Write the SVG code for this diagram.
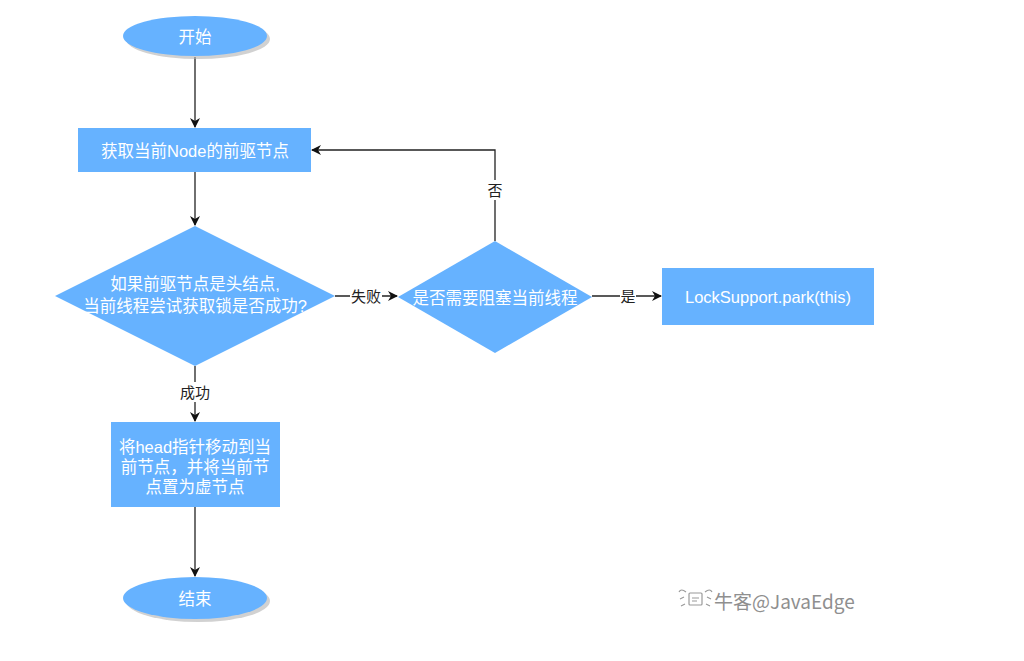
<svg xmlns="http://www.w3.org/2000/svg" width="1024" height="661" viewBox="0 0 1024 661">
<defs>
<style>
.n{fill:#66B2FF;}
.sh{fill:#b3b3b3;opacity:0.6;}
.t{font-family:"Liberation Sans","Noto Sans CJK SC",sans-serif;font-size:16.5px;fill:#ffffff;text-anchor:middle;dominant-baseline:central;}
.l{font-family:"Liberation Sans","Noto Sans CJK SC",sans-serif;font-size:15px;fill:#222;text-anchor:middle;dominant-baseline:central;}
.c{stroke:#222;stroke-width:1.3;fill:none;}
.lb{fill:#ffffff;}
</style>
<marker id="ah" viewBox="0 0 10 10" refX="9" refY="5" markerWidth="10" markerHeight="10" markerUnits="userSpaceOnUse" orient="auto">
<path d="M0,0 L10,5 L0,10 L3,5 Z" fill="#111"/>
</marker>
</defs>
<rect width="1024" height="661" fill="#ffffff"/>
<g id="connectors">
<line class="c" x1="195" y1="57" x2="195" y2="127" marker-end="url(#ah)"/>
<line class="c" x1="195" y1="172" x2="195" y2="225" marker-end="url(#ah)"/>
<line class="c" x1="335" y1="296" x2="397" y2="296" marker-end="url(#ah)"/>
<polyline class="c" points="495,241 495,150 312,150" marker-end="url(#ah)"/>
<line class="c" x1="592" y1="296" x2="661" y2="296" marker-end="url(#ah)"/>
<line class="c" x1="195" y1="366" x2="195" y2="421" marker-end="url(#ah)"/>
<line class="c" x1="195" y1="507" x2="195" y2="576" marker-end="url(#ah)"/>
<rect class="lb" x="350" y="287" width="32" height="18"/>
<text class="l" x="366" y="296">失败</text>
<rect class="lb" x="487" y="180" width="16" height="20"/>
<text class="l" x="495" y="190">否</text>
<rect class="lb" x="620" y="287" width="16" height="18"/>
<text class="l" x="628" y="296">是</text>
<rect class="lb" x="178" y="382" width="34" height="20"/>
<text class="l" x="195" y="392">成功</text>
</g>
<g id="start">
<ellipse class="sh" cx="198" cy="39" rx="72" ry="20"/>
<ellipse class="n" cx="195" cy="36" rx="72" ry="20"/>
<text class="t" x="195" y="37">开始</text>
</g>
<g id="getPred">
<rect class="n" x="78" y="128" width="233" height="44"/>
<text class="t" x="195" y="151">获取当前Node的前驱节点</text>
</g>
<g id="tryLock">
<polygon class="n" points="195,226 335,296 195,366 55,296"/>
<text class="t" x="195" y="284">如果前驱节点是头结点,</text>
<text class="t" x="195" y="306">当前线程尝试获取锁是否成功?</text>
</g>
<g id="shouldPark">
<polygon class="n" points="495,241 592,297 495,353 398,297"/>
<text class="t" x="495" y="298">是否需要阻塞当前线程</text>
</g>
<g id="park">
<rect class="n" x="662" y="268" width="212" height="57"/>
<text class="t" x="768" y="297">LockSupport.park(this)</text>
</g>
<g id="setHead">
<rect class="n" x="111" y="422" width="169" height="85"/>
<text class="t" x="195" y="447">将head指针移动到当</text>
<text class="t" x="195" y="467">前节点，并将当前节</text>
<text class="t" x="195" y="487">点置为虚节点</text>
</g>
<g id="end">
<ellipse class="sh" cx="198" cy="601" rx="72" ry="21"/>
<ellipse class="n" cx="195" cy="598" rx="72" ry="21"/>
<text class="t" x="195" y="599">结束</text>
</g>
<g id="watermark" fill="none" stroke="#9a9a9a" stroke-width="1.2">
<rect x="689" y="593" width="13" height="12" rx="1"/>
<path d="M692,598 L699,598 M692,601 L697,601"/>
<path d="M686,592 Q681,588 679,592 M705,592 Q710,588 712,592 M684,597 L680,599 M707,597 L711,599 M685,604 L681,606 M706,604 L710,606"/>
<text x="714" y="600" stroke="none" font-family="'Noto Sans CJK SC','Liberation Sans',sans-serif" font-size="19" fill="#8f8f8f" dominant-baseline="central">牛客@JavaEdge</text>
</g>
</svg>
